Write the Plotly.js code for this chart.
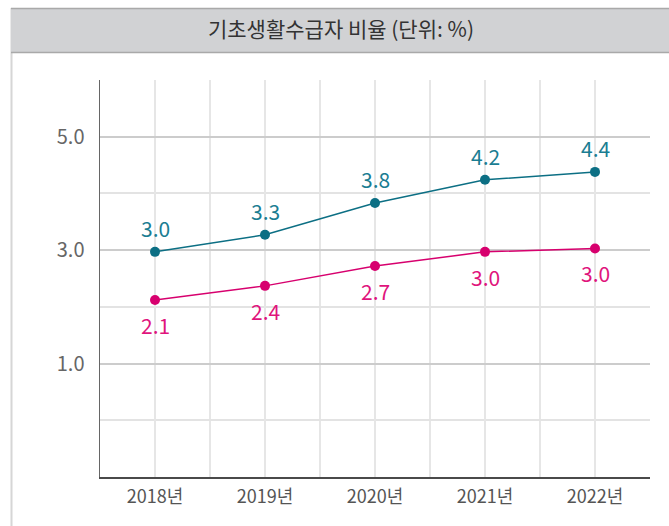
<!DOCTYPE html>
<html>
<head>
<meta charset="utf-8">
<script src="https://cdn.plot.ly/plotly-3.0.1.min.js"></script>
<style>
  html, body { margin: 0; padding: 0; background: #ffffff; }
  #chart { width: 669px; height: 526px; }
</style>
</head>
<body>
<div id="chart"></div>
<script>
// ---- data ----
const years = ["2018년", "2019년", "2020년", "2021년", "2022년"];
const seriesTeal = [2.97, 3.27, 3.83, 4.24, 4.38];
const seriesPink = [2.12, 2.37, 2.72, 2.97, 3.03];
const yTickVals = [1, 3, 5];
const yTickText = ["1.0", "3.0", "5.0"];
const chartTitle = "기초생활수급자 비율 (단위: %)";

const xIdx = years.map((_, i) => i);
const FONT = "'Noto Sans CJK KR', 'Noto Sans', sans-serif";
const TEAL = "#0c6f84", TEAL_TXT = "#1a7d92";
const PINK = "#d7006e", PINK_TXT = "#e0147c";

const traces = [
  {
    x: xIdx, y: seriesTeal, type: "scatter", mode: "lines+markers",
    line: { color: TEAL, width: 1.5 },
    marker: { color: TEAL, size: 10 },
    cliponaxis: false, hoverinfo: "skip", showlegend: false
  },
  {
    x: xIdx, y: seriesPink, type: "scatter", mode: "lines+markers",
    line: { color: PINK, width: 1.5 },
    marker: { color: PINK, size: 10 },
    cliponaxis: false, hoverinfo: "skip", showlegend: false
  }
];

// value labels positioned through the axes
const labelAnn = (ys, color, shift) => ys.map((v, i) => ({
  x: xIdx[i], y: v, xref: "x", yref: "y",
  text: v.toFixed(1), showarrow: false,
  yshift: shift, xanchor: "center", yanchor: "middle",
  font: { family: FONT, size: 21, color: color }
}));

// paper coordinate helpers (plot area: x 100..650, y 80..477 px)
const L = 100, T = 80, W = 550, H = 397;
const px = v => (v - L) / W;
const py = v => 1 - (v - T) / H;

const layout = {
  width: 669, height: 526,
  margin: { l: L, r: 669 - L - W, t: T, b: 526 - T - H, pad: 0 },
  paper_bgcolor: "#ffffff", plot_bgcolor: "#ffffff",
  font: { family: FONT, color: "#666666" },
  title: {
    text: chartTitle,
    font: { family: FONT, size: 21, color: "#333333" },
    x: 341 / 669, xref: "container", xanchor: "center",
    y: 1 - 30 / 526, yref: "container", yanchor: "middle"
  },
  xaxis: {
    range: [-0.5, 4.5], tickvals: xIdx, ticktext: years,
    showgrid: true, gridcolor: "#e6e6e6", gridwidth: 2,
    minor: { dtick: 0.5, tick0: -0.5, showgrid: true, gridcolor: "#e6e6e6", gridwidth: 2 },
    showline: true, linecolor: "#4a4a4a", linewidth: 1.5,
    ticks: "", ticklabelstandoff: 3,
    tickfont: { family: FONT, size: 18, color: "#555555" },
    zeroline: false, fixedrange: true
  },
  yaxis: {
    range: [-1, 6], tickvals: yTickVals, ticktext: yTickText,
    showgrid: true, gridcolor: "#cccccc", gridwidth: 2,
    minor: { dtick: 1, tick0: 0, showgrid: true, gridcolor: "#e3e3e3", gridwidth: 2 },
    showline: true, linecolor: "#666666", linewidth: 1.5,
    ticks: "", ticklabelstandoff: 10,
    tickfont: { family: FONT, size: 20, color: "#666666" },
    zeroline: false, fixedrange: true
  },
  annotations: [
    ...labelAnn(seriesTeal, TEAL_TXT, 24),
    ...labelAnn(seriesPink, PINK_TXT, -25)
  ],
  shapes: [
    // left frame line of the page
    { type: "line", xref: "paper", yref: "paper", layer: "below",
      x0: px(11.5), x1: px(11.5), y0: py(8), y1: py(526),
      line: { color: "#d6d6d6", width: 2 } },
    // title bar
    { type: "rect", xref: "paper", yref: "paper", layer: "below",
      x0: px(11), x1: px(669), y0: py(52.5), y1: py(8.5),
      fillcolor: "#d1d2d4", line: { width: 0 } },
    { type: "line", xref: "paper", yref: "paper", layer: "below",
      x0: px(11), x1: px(669), y0: py(8.5), y1: py(8.5),
      line: { color: "#a9a9a9", width: 1.5 } },
    { type: "line", xref: "paper", yref: "paper", layer: "below",
      x0: px(11), x1: px(669), y0: py(52.5), y1: py(52.5),
      line: { color: "#a9a9a9", width: 1.5 } },
    // darker reference line at 3.0
    { type: "line", xref: "paper", yref: "y", layer: "below",
      x0: 0, x1: 1, y0: 3, y1: 3,
      line: { color: "#a6a6a6", width: 1.2 } }
  ]
};

Plotly.newPlot("chart", traces, layout, { staticPlot: true, displayModeBar: false });
</script>
</body>
</html>
